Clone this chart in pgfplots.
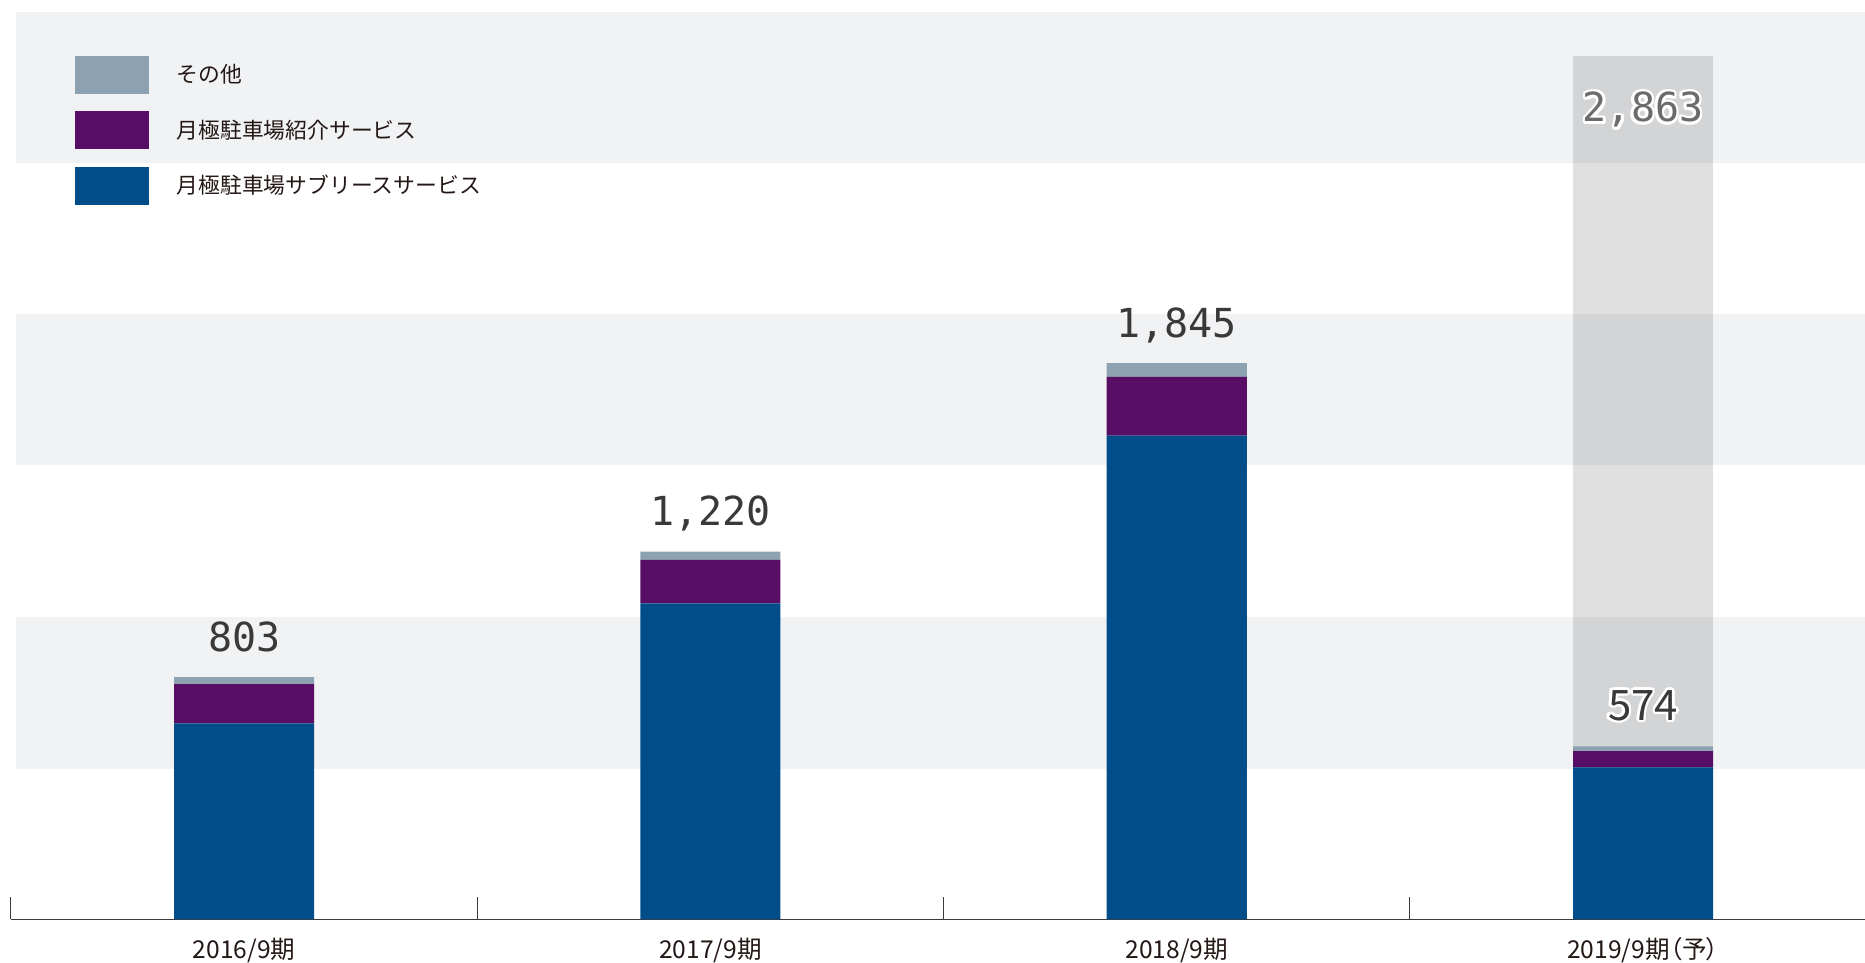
\documentclass[border=0pt]{standalone}
\usepackage{pgfplots}
\pgfplotsset{compat=1.18}
\usepackage{pgfplotstable}
\usepackage{fontspec}
\setmainfont{Noto Sans CJK JP}
\newfontfamily\monofont{DejaVu Sans Mono}
\newfontfamily\paltfont[RawFeature=+palt]{Noto Sans CJK JP}
\definecolor{cBlue}{RGB}{0,77,137}
\definecolor{cPurple}{RGB}{89,14,101}
\definecolor{cGray}{RGB}{141,162,176}
\definecolor{cBand}{RGB}{241,242,244}
\definecolor{cText}{RGB}{35,24,21}
\definecolor{cLab}{RGB}{58,56,56}
\definecolor{cLabGray}{RGB}{107,107,107}
\definecolor{cAxis}{RGB}{62,58,57}

\newcommand\haloat[3]{\rlap{\kern#1\raisebox{#2}{\textcolor{white}{#3}}}}
\newcommand\halo[2]{\leavevmode
 \haloat{1.3pt}{0pt}{#2}\haloat{1.126pt}{0.65pt}{#2}\haloat{0.65pt}{1.126pt}{#2}\haloat{0pt}{1.3pt}{#2}%
 \haloat{-0.65pt}{1.126pt}{#2}\haloat{-1.126pt}{0.65pt}{#2}\haloat{-1.3pt}{0pt}{#2}\haloat{-1.126pt}{-0.65pt}{#2}%
 \haloat{-0.65pt}{-1.126pt}{#2}\haloat{0pt}{-1.3pt}{#2}\haloat{0.65pt}{-1.126pt}{#2}\haloat{1.126pt}{-0.65pt}{#2}%
 \textcolor{#1}{#2}}

\pgfplotstableread{
x blue purple other
0 650  130 23
1 1048 144 28
2 1604 195 46
3 504  54  16
}\datatable

\pgfplotsset{
  base/.style={at={(0,0)}, anchor=south west, scale only axis,
    width=927pt, height=453.7pt, xmin=-0.5, xmax=3.476, ymin=0, ymax=3010},
  swatch/.style={legend image code/.code={\fill[##1] (0pt,-9.5pt) rectangle (37pt,9.5pt);}},
  vlabel/.style={draw=none, no markers, point meta=y,
    /pgf/number format/1000 sep={,}, /pgf/number format/assume math mode=true},
}

\begin{document}
\begin{tikzpicture}
% background: bands, 2019 target column, value labels
\begin{axis}[base, hide axis, clip=false]
  \fill[cBand] (axis cs:-0.489,500) rectangle (axis cs:3.476,1002);
  \fill[cBand] (axis cs:-0.489,1507) rectangle (axis cs:3.476,2008);
  \fill[cBand] (axis cs:-0.489,2508) rectangle (axis cs:3.476,3010);
  \addplot[ybar, bar width=70pt, bar shift=0pt, draw=none, fill=black, fill opacity=0.12]
    coordinates {(3,2863)};
  % totals 2016-2018
  \addplot[vlabel, nodes near coords={\monofont\pgfmathprintnumber{\pgfplotspointmeta}},
    every node near coord/.append style={anchor=base, yshift=13pt, inner sep=0pt,
      font=\fontsize{20}{24}\selectfont, text=cLab}]
    coordinates {(0,803) (1,1220) (2,1845)};
  % total 2019
  \addplot[vlabel, nodes near coords={\halo{cLab}{\pgfmathprintnumber{\pgfplotspointmeta}}},
    every node near coord/.append style={anchor=base, yshift=13pt, inner sep=0pt,
      font=\fontsize{21}{25}\selectfont}]
    coordinates {(3,574)};
  % target 2019
  \addplot[vlabel, nodes near coords={\halo{cLabGray}{\monofont\pgfmathprintnumber{\pgfplotspointmeta}}},
    every node near coord/.append style={anchor=base, yshift=-32.85pt, inner sep=0pt,
      font=\fontsize{20}{24}\selectfont}]
    coordinates {(3,2863)};
\end{axis}
% stacked bars
\begin{axis}[base, ybar stacked, bar width=70pt,
  axis x line*=bottom, axis y line=none,
  axis line style={-, draw=cAxis, line width=0.65pt},
  xtick={0,1,2,3},
  xticklabels={2016/9期, 2017/9期, 2018/9期, {\paltfont 2019/9期（予）}},
  major tick length=0pt, tick align=inside,
  extra x ticks={-0.5,0.5,1.5,2.5}, extra x tick labels={},
  extra x tick style={major tick length=11.3pt, tick style={draw=cAxis, line width=0.5pt}},
  xticklabel style={anchor=base, yshift=-19.6pt, font=\fontsize{12.3}{14}\selectfont, text=cText},
  reverse legend, legend cell align=left,
  legend style={at={(0,1)}, anchor=north west, xshift=32pt, yshift=-22.05pt,
    draw=none, fill=none, inner sep=0pt, outer sep=0pt, row sep=8.75pt,
    nodes={inner sep=0pt},
    /tikz/every odd column/.append style={column sep=13.85pt},
    font=\fontsize{10.9}{13}\selectfont, text=cText},
]
  \addplot[draw=none, fill=cBlue, swatch] table[x=x, y=blue] {\datatable};
  \addlegendentry{月極駐車場サブリースサービス}
  \addplot[draw=none, fill=cPurple, swatch] table[x=x, y=purple] {\datatable};
  \addlegendentry{月極駐車場紹介サービス}
  \addplot[draw=none, fill=cGray, swatch] table[x=x, y=other] {\datatable};
  \addlegendentry{その他}
\end{axis}
\pgfresetboundingbox
\useasboundingbox (-5.5pt,-21.85pt) rectangle (927pt,459.65pt);
\end{tikzpicture}
\end{document}
